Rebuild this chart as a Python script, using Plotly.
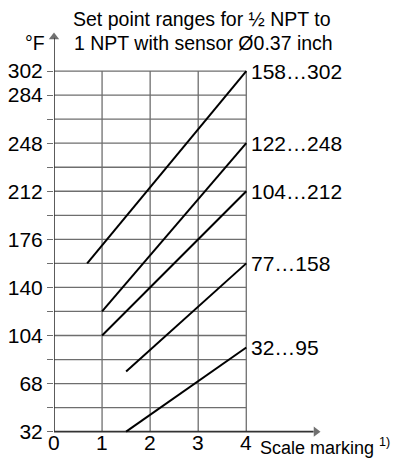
import plotly.graph_objects as go

# ---- data ----
scale_start = [0.69, 1.0, 1.0, 1.5, 1.5]
scale_end = [4, 4, 4, 4, 4]
temp_start = [158, 122, 104, 77, 32]
temp_end = [302, 248, 212, 158, 95]
range_labels = ["158…302", "122…248", "104…212", "77…158", "32…95"]

y_grid = [32, 50, 68, 86, 104, 122, 140, 158, 176, 194, 212, 230, 248, 266, 284, 302]
y_labeled = [32, 68, 104, 140, 176, 212, 248, 284, 302]
x_ticks = [0, 1, 2, 3, 4]
x_grid = [1, 2, 3, 4]

# axis extents (data units) — arrow tips
x_axis_tip = 5.6
y_axis_tip = 333

title_lines = ["Set point ranges for ½ NPT to", "1 NPT with sensor Ø0.37 inch"]
y_unit = "°F"
x_title = "Scale marking <sup>1)</sup>"

X_RANGE = [0, 5.7]
Y_RANGE = [28, 335]

FONT = "Liberation Sans"
GRID = "#6e6e6e"
AX = "#333333"
FS = 21
TFS = 19.5

fig = go.Figure()

# axis lines as traces
fig.add_trace(go.Scatter(x=[0, x_axis_tip - 0.2], y=[y_grid[0], y_grid[0]], mode="lines",
                         line=dict(color=AX, width=1.6), cliponaxis=False,
                         showlegend=False, hoverinfo="skip"))
fig.add_trace(go.Scatter(x=[0, 0], y=[y_grid[0], y_axis_tip - 6], mode="lines",
                         line=dict(color=AX, width=1.6), cliponaxis=False,
                         showlegend=False, hoverinfo="skip"))

for xs, xe, ys, ye in zip(scale_start, scale_end, temp_start, temp_end):
    fig.add_trace(go.Scatter(x=[xs, xe], y=[ys, ye], mode="lines",
                             line=dict(color="black", width=2),
                             cliponaxis=False, showlegend=False, hoverinfo="skip"))

# arrowheads
fig.add_trace(go.Scatter(x=[0], y=[y_axis_tip - 5.5], mode="markers",
                         marker=dict(symbol="triangle-up", size=[9], color=AX, line=dict(width=0)),
                         cliponaxis=False, showlegend=False, hoverinfo="skip"))
fig.add_trace(go.Scatter(x=[x_axis_tip - 0.15], y=[y_grid[0]], mode="markers",
                         marker=dict(symbol="triangle-right", size=[9], color=AX, line=dict(width=0)),
                         cliponaxis=False, showlegend=False, hoverinfo="skip"))

shapes = []
for yv in y_grid[1:]:
    shapes.append(dict(type="line", xref="x", yref="y", x0=0, x1=x_grid[-1], y0=yv, y1=yv,
                       line=dict(color=GRID, width=1.3), layer="below"))
for xv in x_grid:
    shapes.append(dict(type="line", xref="x", yref="y", x0=xv, x1=xv, y0=y_grid[0], y1=y_grid[-1],
                       line=dict(color=GRID, width=1.3), layer="below"))

annotations = []
for xe, ye, lab in zip(scale_end, temp_end, range_labels):
    annotations.append(dict(x=xe, y=ye, xref="x", yref="y", text=lab, showarrow=False,
                            xanchor="left", yanchor="middle", xshift=3,
                            font=dict(family=FONT, size=FS, color="black")))
for xv in x_ticks:
    annotations.append(dict(x=xv, y=y_grid[0], xref="x", yref="y", text=str(xv), showarrow=False,
                            xanchor="center", yanchor="middle", yshift=-10.5,
                            font=dict(family=FONT, size=FS, color="black")))
annotations.append(dict(x=0.541, y=1.0197, xref="paper", yref="paper", text=title_lines[0], showarrow=False,
                        xanchor="center", yanchor="middle", font=dict(family=FONT, size=TFS, color="black")))
annotations.append(dict(x=0.546, y=0.9605, xref="paper", yref="paper", text=title_lines[1], showarrow=False,
                        xanchor="center", yanchor="middle", font=dict(family=FONT, size=TFS, color="black")))
annotations.append(dict(x=-0.069, y=0.9605, xref="paper", yref="paper", text=y_unit, showarrow=False,
                        xanchor="center", yanchor="middle", font=dict(family=FONT, size=TFS, color="black")))
annotations.append(dict(x=0.745, y=-0.0235, xref="paper", yref="paper", text=x_title, showarrow=False,
                        xanchor="left", yanchor="middle", font=dict(family=FONT, size=18, color="black")))

fig.update_layout(
    width=396, height=457,
    margin=dict(l=46, r=76.4, t=19, b=27.65, pad=0),
    paper_bgcolor="white", plot_bgcolor="white",
    shapes=shapes, annotations=annotations,
    font=dict(family=FONT, size=FS, color="black"),
    xaxis=dict(range=X_RANGE, showgrid=False, zeroline=False, automargin=False,
               showline=False, showticklabels=False, ticks=""),
    yaxis=dict(range=Y_RANGE, showgrid=False, zeroline=False, automargin=False,
               showline=False,
               tickmode="array", tickvals=y_grid,
               ticktext=[str(v) if v in y_labeled else "" for v in y_grid],
               ticks="outside", ticklen=6, tickcolor=GRID, tickwidth=1.3,
               tickfont=dict(family=FONT, size=FS, color="black")),
)

fig.write_html("out.html")
